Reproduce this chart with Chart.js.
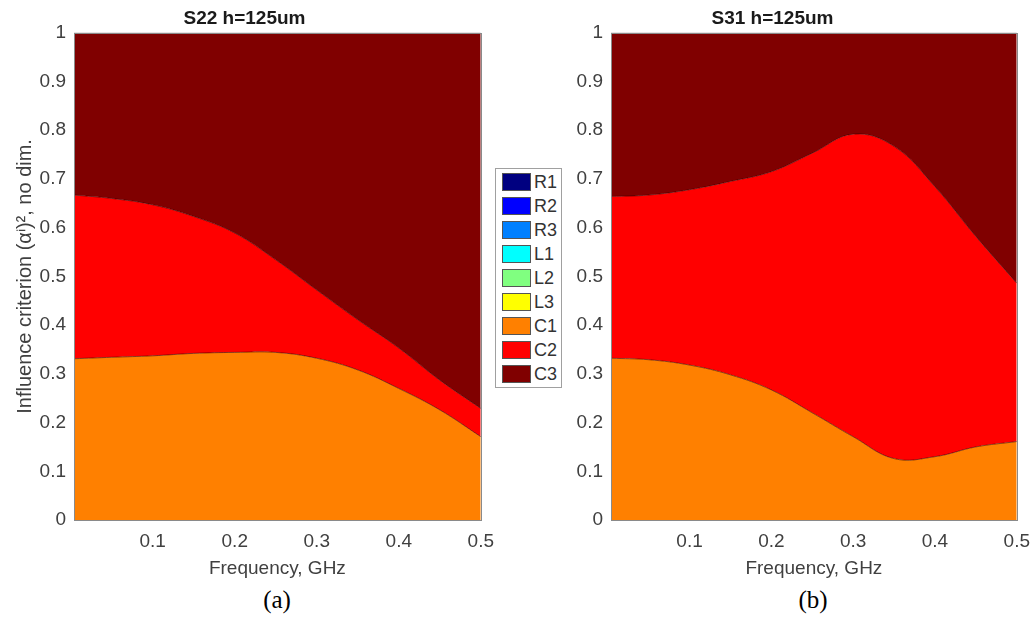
<!DOCTYPE html>
<html>
<head>
<meta charset="utf-8">
<script src="https://cdn.jsdelivr.net/npm/chart.js@4.4.1/dist/chart.umd.min.js"></script>
<style>
  body { margin: 0; background: #fff; width: 1036px; height: 623px; overflow: hidden; position: relative; font-family: "Liberation Sans", Arial, sans-serif; }
  .plot { position: absolute; top: 0; height: 585px; }
  #legend { position: absolute; left: 495px; top: 168px; width: 65px; height: 218px; border: 1px solid #a0a0a0; background: #fff; }
  .row { position: absolute; left: 6px; height: 19px; }
  .sw { position: absolute; left: 0; top: 0; width: 29px; height: 18px; border: 1px solid #555; box-sizing: border-box; }
  .lb { position: absolute; left: 32px; top: -1px; font-size: 18px; color: #333; line-height: 20px; }
  .cap { position: absolute; top: 586px; width: 100px; text-align: center; font-family: "Liberation Serif", "Times New Roman", serif; font-size: 25px; color: #000; }
</style>
</head>
<body>
<div class="plot" style="left:0;width:504px"><canvas id="chartA"></canvas></div>
<div class="plot" style="left:520px;width:520px"><canvas id="chartB"></canvas></div>
<div id="legend"></div>
<div class="cap" style="left:227px">(a)</div>
<div class="cap" style="left:763px">(b)</div>
<script>
// frequency points (GHz)
const freq = [0.004, 0.05, 0.1, 0.15, 0.2, 0.25, 0.3, 0.35, 0.4, 0.45, 0.5];

// S22 shares
const s22C1 = [0.331, 0.334, 0.337, 0.342, 0.344, 0.344, 0.332, 0.308, 0.270, 0.226, 0.171];
const s22C2 = [0.336, 0.326, 0.310, 0.281, 0.245, 0.190, 0.140, 0.103, 0.083, 0.061, 0.058];
const s22C3 = [0.333, 0.340, 0.353, 0.377, 0.411, 0.466, 0.528, 0.589, 0.647, 0.713, 0.771];

// S31 shares
const s31C1 = [0.332, 0.329, 0.318, 0.298, 0.267, 0.220, 0.171, 0.126, 0.130, 0.150, 0.161];
const s31C2 = [0.332, 0.338, 0.360, 0.397, 0.448, 0.533, 0.621, 0.641, 0.554, 0.432, 0.325];
const s31C3 = [0.336, 0.333, 0.322, 0.305, 0.285, 0.247, 0.208, 0.233, 0.316, 0.418, 0.514];

const seriesNames = ['R1', 'R2', 'R3', 'L1', 'L2', 'L3', 'C1', 'C2', 'C3'];
const seriesColors = ['#000080', '#0000ff', '#0080ff', '#00ffff', '#80ff80', '#ffff00', '#ff8000', '#ff0000', '#800000'];
const xTicks = [0.1, 0.2, 0.3, 0.4, 0.5];

const font = "'Liberation Sans', Arial, sans-serif";
const grey = '#404040';

// legend between the two plots
const legend = document.getElementById('legend');
seriesNames.forEach((name, i) => {
  const row = document.createElement('div');
  row.className = 'row';
  row.style.top = (4 + i * 24) + 'px';
  row.innerHTML = '<div class="sw" style="background:' + seriesColors[i] + '"></div><div class="lb">' + name + '</div>';
  legend.appendChild(row);
});

// grey box round the plot area
const frame = {
  id: 'frame',
  afterDatasetsDraw(chart) {
    const a = chart.chartArea, ctx = chart.ctx;
    ctx.save();
    ctx.strokeStyle = '#8a8a8a';
    ctx.lineWidth = 1;
    ctx.strokeRect(Math.round(a.left) + 0.5, Math.round(a.top) + 0.5, Math.round(a.right - a.left), Math.round(a.bottom - a.top));
    ctx.restore();
  }
};

function area(label, values) {
  const i = seriesNames.indexOf(label);
  return {
    label: label,
    data: freq.map((f, k) => ({ x: f, y: values[k] })),
    backgroundColor: seriesColors[i],
    borderColor: 'rgba(40,0,0,0.7)',
    borderWidth: 0.8,
    pointRadius: 0,
    tension: 0.4,
    fill: label === 'C1' ? 'origin' : '-1'
  };
}

function makeChart(id, title, c1, c2, c3, yWidth, yTitle) {
  new Chart(document.getElementById(id), {
    type: 'line',
    data: { datasets: [area('C1', c1), area('C2', c2), area('C3', c3)] },
    options: {
      responsive: true,
      maintainAspectRatio: false,
      animation: false,
      layout: { padding: { left: 0, right: 15, top: 0, bottom: 0 } },
      plugins: {
        legend: { display: false },
        tooltip: { enabled: false },
        title: {
          display: true,
          text: title,
          color: '#1a1a1a',
          font: { family: font, size: 19, weight: 'bold' },
          padding: { top: 7, bottom: 3 }
        }
      },
      scales: {
        x: {
          type: 'linear',
          min: 0.004,
          max: 0.5,
          grid: { display: false, drawTicks: false },
          border: { display: false },
          afterBuildTicks: axis => { axis.ticks = xTicks.map(v => ({ value: v })); },
          afterFit: axis => { axis.height = 65; },
          ticks: { color: grey, font: { family: font, size: 19 }, padding: 10, maxRotation: 0 },
          title: { display: true, text: 'Frequency, GHz', color: grey, font: { family: font, size: 19 }, padding: { top: 0, bottom: 5 } }
        },
        y: {
          stacked: true,
          min: 0,
          max: 1,
          grid: { display: false, drawTicks: false },
          border: { display: false },
          afterFit: axis => { axis.width = yWidth; },
          ticks: { stepSize: 0.1, color: grey, font: { family: font, size: 19 }, padding: 8, callback: v => String(+v.toFixed(1)) },
          title: { display: !!yTitle, text: yTitle, color: grey, font: { family: font, size: 20 }, padding: { top: 13, bottom: 0 } }
        }
      }
    },
    plugins: [frame]
  });
}

makeChart('chartA', 'S22 h=125um', s22C1, s22C2, s22C3, 74, 'Influence criterion (\u03b1\u2071)\u00b2, no dim.');
makeChart('chartB', 'S31 h=125um', s31C1, s31C2, s31C3, 91, '');
</script>
</body>
</html>
